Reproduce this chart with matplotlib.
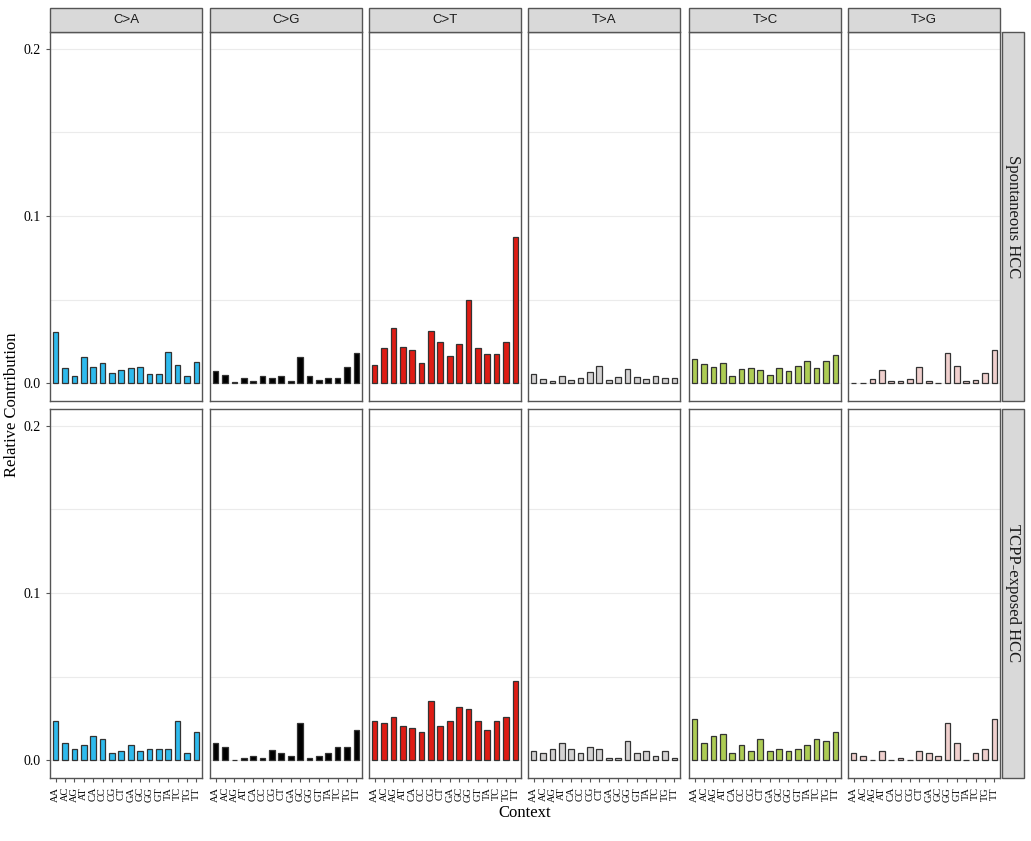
import matplotlib

matplotlib.use("Agg")
import matplotlib.pyplot as plt
from matplotlib.patches import Rectangle

CONTEXTS = ["AA", "AC", "AG", "AT", "CA", "CC", "CG", "CT",
            "GA", "GC", "GG", "GT", "TA", "TC", "TG", "TT"]
SUBS = ["C>A", "C>G", "C>T", "T>A", "T>C", "T>G"]
GROUPS = ["Spontaneous HCC", "TCPP-exposed HCC"]
COLORS = ["#2EBAED", "#000000", "#DE1C14", "#D4D2D2", "#ADCC54", "#F0D0CE"]

spont = {
    "C>A": [0.031, 0.009, 0.0044, 0.016, 0.010, 0.012, 0.006, 0.008,
            0.009, 0.010, 0.0056, 0.0056, 0.019, 0.011, 0.0044, 0.013],
    "C>G": [0.0076, 0.005, 0.001, 0.003, 0.0016, 0.0046, 0.0034, 0.0046,
            0.0016, 0.016, 0.0046, 0.002, 0.003, 0.0034, 0.0096, 0.018],
    "C>T": [0.011, 0.021, 0.033, 0.022, 0.020, 0.0124, 0.0315, 0.0247,
            0.0164, 0.0236, 0.050, 0.021, 0.0174, 0.0174, 0.0247, 0.0876],
    "T>A": [0.0058, 0.0024, 0.0012, 0.0044, 0.002, 0.003, 0.007, 0.0106,
            0.0018, 0.0038, 0.0088, 0.0038, 0.0026, 0.0044, 0.0032, 0.0032],
    "T>C": [0.0148, 0.0118, 0.010, 0.0124, 0.0042, 0.0088, 0.0094, 0.0082,
            0.005, 0.0094, 0.0074, 0.0106, 0.0136, 0.0094, 0.0136, 0.0168],
    "T>G": [0.0004, 0.0004, 0.0026, 0.0082, 0.0014, 0.0014, 0.0024, 0.010,
            0.0014, 0.0004, 0.018, 0.0106, 0.0014, 0.002, 0.0064, 0.020],
}
tcpp = {
    "C>A": [0.0236, 0.0107, 0.0069, 0.0093, 0.0143, 0.0131, 0.0044, 0.0058,
            0.0093, 0.0058, 0.0069, 0.0069, 0.0069, 0.0236, 0.0044, 0.0169],
    "C>G": [0.0107, 0.0083, 0.0004, 0.0016, 0.0028, 0.0016, 0.006, 0.0046,
            0.0028, 0.0224, 0.0016, 0.0028, 0.0046, 0.0083, 0.0083, 0.018],
    "C>T": [0.0236, 0.0222, 0.026, 0.0204, 0.0192, 0.0167, 0.0357, 0.0204,
            0.0236, 0.0321, 0.0308, 0.0236, 0.018, 0.0236, 0.026, 0.0474],
    "T>A": [0.0058, 0.0046, 0.007, 0.0107, 0.007, 0.0046, 0.0081, 0.007,
            0.0016, 0.0016, 0.0117, 0.0046, 0.0058, 0.0026, 0.0058, 0.0016],
    "T>C": [0.0246, 0.0105, 0.0143, 0.0155, 0.0046, 0.0093, 0.0058, 0.013,
            0.0058, 0.007, 0.0058, 0.007, 0.0093, 0.013, 0.0117, 0.0168],
    "T>G": [0.0046, 0.0026, 0.0002, 0.0058, 0.0002, 0.0014, 0.0002, 0.0058,
            0.0046, 0.0026, 0.0222, 0.0107, 0.0002, 0.0046, 0.007, 0.0246],
}
DATA = [spont, tcpp]

W, H = 1031, 841
fig = plt.figure(figsize=(W / 100, H / 100), dpi=100)
SERIF = "Liberation Serif"
SANS = "Liberation Sans"

lefts = [50, 210, 369, 528, 689, 848]
pw = 152
rows = [(32, 401), (409, 778)]
edge = "#555555"

for r, (top, bot) in enumerate(rows):
    for c, sub in enumerate(SUBS):
        ax = fig.add_axes([lefts[c] / W, 1 - bot / H, pw / W, (bot - top) / H])
        ax.bar(range(16), DATA[r][sub], width=0.6, color=COLORS[c],
               edgecolor="#333333", linewidth=0.9, zorder=3)
        ax.set_xlim(-0.6, 15.6)
        ax.set_ylim(-0.0105, 0.21)
        ax.set_yticks([0.0, 0.1, 0.2])
        ax.set_yticks([0.05, 0.15], minor=True)
        ax.grid(True, which="both", axis="y", color="#EBEBEB", lw=0.8, zorder=0)
        for s in ax.spines.values():
            s.set_color(edge)
            s.set_linewidth(1.0)
        ax.tick_params(axis="y", which="minor", length=0)
        ax.tick_params(axis="both", which="major", color=edge, length=3)
        if c == 0:
            ax.set_yticklabels(["0.0", "0.1", "0.2"], family=SERIF, fontsize=10)
        else:
            ax.set_yticklabels([])
            ax.tick_params(axis="y", length=0)
        ax.set_xticks(range(16))
        if r == 1:
            ax.set_xticklabels(CONTEXTS, rotation=90, family=SERIF, fontsize=7.5)
        else:
            ax.set_xticklabels([])
            ax.tick_params(axis="x", length=0)
        if r == 0:
            fig.patches.append(Rectangle((lefts[c] / W, 1 - 32 / H), pw / W, 24 / H,
                                         transform=fig.transFigure, facecolor="#D9D9D9",
                                         edgecolor=edge, lw=1.0))
            fig.text((lefts[c] + pw / 2) / W, 1 - 20 / H, sub, ha="center",
                     va="center", family=SANS, fontsize=9.5, color="#1A1A1A")
    fig.patches.append(Rectangle((1002 / W, 1 - bot / H), 22 / W, (bot - top) / H,
                                 transform=fig.transFigure, facecolor="#D9D9D9",
                                 edgecolor=edge, lw=1.0))
    fig.text(1013 / W, 1 - (top + bot) / 2 / H, GROUPS[r], rotation=270,
             ha="center", va="center", family=SERIF, fontsize=12, color="#1A1A1A")

fig.text(12 / W, 1 - 405 / H, "Relative Contribution", rotation=90, ha="center",
         va="center", family=SERIF, fontsize=12)
fig.text(525 / W, 1 - 813 / H, "Context", ha="center", va="center",
         family=SERIF, fontsize=12)

fig.savefig("out.png", dpi=100)
